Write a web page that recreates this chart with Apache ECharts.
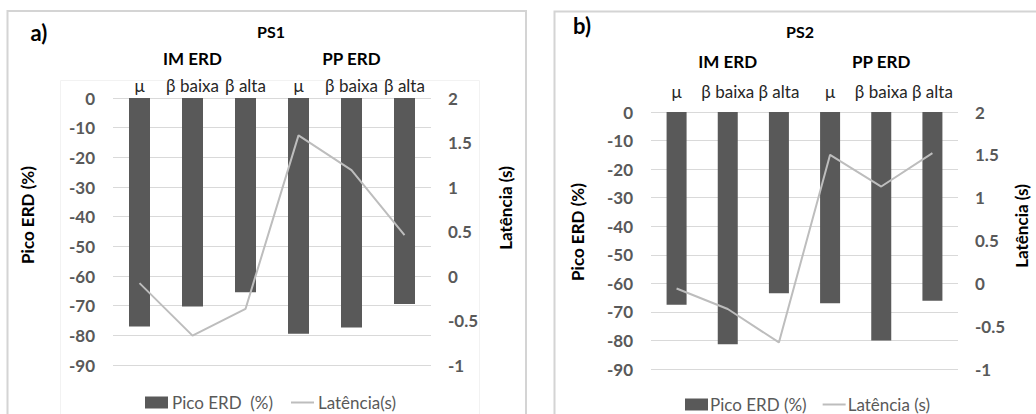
<!DOCTYPE html>
<html>
<head>
<meta charset="utf-8">
<script src="https://cdn.jsdelivr.net/npm/echarts@6/dist/echarts.min.js"></script>
<style>
  html, body { margin: 0; padding: 0; background: #fff; }
  #chart { width: 1036px; height: 414px; }
</style>
</head>
<body>
<div id="chart"></div>
<script>
// ---- data ----
const categories = ['μ', 'β baixa', 'β alta', 'μ', 'β baixa', 'β alta'];
const groups = ['IM ERD', 'PP ERD'];
const ps1Erd = [-77, -70.3, -65.5, -79.5, -77.4, -69.4];
const ps1Lat = [-0.08, -0.67, -0.37, 1.58, 1.19, 0.46];
const ps2Erd = [-67.5, -81.3, -63.5, -67, -80, -66.1];
const ps2Lat = [-0.06, -0.3, -0.69, 1.5, 1.13, 1.52];
const erdMin = -90, erdMax = 0, erdStep = 10;
const latMin = -1, latMax = 2, latStep = 0.5;
const panelTitles = ['PS1', 'PS2'];
const panelLetters = ['a)', 'b)'];
const legend1 = ['Pico ERD  (%)', 'Latência(s)'];
const legend2 = ['Pico ERD (%)', 'Latência (s)'];

// ---- styles ----
const FONT = 'Lato, "Open Sans", sans-serif';
const BAR = '#595959';
const LINE = '#bdbdbd';
const TICK = '#595959';
const LINE_ICON = 'path://M0,0H23V2H0Z';

const chart = echarts.init(document.getElementById('chart'), null, { renderer: 'svg' });

function catAxis(grid, margin) {
  return {
    gridIndex: grid, type: 'category', data: categories, position: 'top',
    axisLine: { show: false }, axisTick: { show: false }, splitLine: { show: false },
    axisLabel: { interval: 0, margin: margin, fontFamily: FONT, fontSize: 17, color: '#262626' }
  };
}
function groupAxis(grid, offset) {
  return {
    gridIndex: grid, type: 'category', data: groups, position: 'top', offset: offset,
    axisLine: { show: false }, axisTick: { show: false }, splitLine: { show: false },
    axisLabel: { interval: 0, margin: 0, fontFamily: FONT, fontSize: 17, fontWeight: 'bold', color: '#000' }
  };
}
function erdAxis(grid) {
  return {
    gridIndex: grid, type: 'value', min: erdMin, max: erdMax, interval: erdStep, position: 'left',
    axisLine: { show: false }, axisTick: { show: false },
    splitLine: { show: true, lineStyle: { color: '#d9d9d9', width: 1 } },
    axisLabel: { margin: 18, fontFamily: FONT, fontSize: 17, fontWeight: 'bold', color: TICK }
  };
}
function latAxis(grid) {
  return {
    gridIndex: grid, type: 'value', min: latMin, max: latMax, interval: latStep, position: 'right',
    axisLine: { show: false }, axisTick: { show: false }, splitLine: { show: false },
    axisLabel: { margin: 17, fontFamily: FONT, fontSize: 17, fontWeight: 'bold', color: TICK }
  };
}
function rotText(x, y, text) {
  return {
    type: 'text', x: x, y: y, rotation: Math.PI / 2, silent: true,
    style: { text: text, fontFamily: FONT, fontSize: 17, fontWeight: 'bold', fill: '#000',
             textAlign: 'center', textVerticalAlign: 'middle' }
  };
}
function plainText(x, y, text, size) {
  return {
    type: 'text', x: x, y: y, silent: true,
    style: { text: text, fontFamily: FONT, fontSize: size, fontWeight: 'bold', fill: '#000',
             textAlign: 'center', textVerticalAlign: 'middle' }
  };
}

const option = {
  animation: false,
  backgroundColor: '#fff',
  grid: [
    { left: 113, top: 98, width: 318, height: 267 },
    { left: 651, top: 112, width: 307, height: 257 }
  ],
  xAxis: [catAxis(0, 4), groupAxis(0, 31), catAxis(1, 12), groupAxis(1, 42)],
  yAxis: [erdAxis(0), latAxis(0), erdAxis(1), latAxis(1)],
  legend: [
    {
      left: 140, top: 389, itemWidth: 23, itemHeight: 12, itemGap: 18, symbolKeepAspect: true,
      textStyle: { fontFamily: FONT, fontSize: 17, color: TICK, padding: [0, 0, 0, -1] },
      data: [{ name: legend1[0], icon: 'rect' }, { name: legend1[1], icon: LINE_ICON }]
    },
    {
      left: 680, top: 391, itemWidth: 23, itemHeight: 12, itemGap: 16, symbolKeepAspect: true,
      textStyle: { fontFamily: FONT, fontSize: 17, color: TICK, padding: [0, 0, 0, -3] },
      data: [{ name: legend2[0], icon: 'rect' }, { name: legend2[1], icon: LINE_ICON }]
    }
  ],
  series: [
    { name: legend1[0], type: 'bar', xAxisIndex: 0, yAxisIndex: 0, data: ps1Erd,
      barWidth: 21, itemStyle: { color: BAR } },
    { name: legend1[1], type: 'line', xAxisIndex: 0, yAxisIndex: 1, data: ps1Lat,
      symbol: 'none', lineStyle: { color: LINE, width: 2 }, itemStyle: { color: LINE } },
    { name: legend2[0], type: 'bar', xAxisIndex: 2, yAxisIndex: 2, data: ps2Erd,
      barWidth: 20, itemStyle: { color: BAR } },
    { name: legend2[1], type: 'line', xAxisIndex: 2, yAxisIndex: 3, data: ps2Lat,
      symbol: 'none', lineStyle: { color: LINE, width: 2 }, itemStyle: { color: LINE } }
  ],
  graphic: [
    // panel frames
    { type: 'rect', silent: true, z: -10, shape: { x: 7.5, y: 11, width: 518.5, height: 420 },
      style: { fill: 'none', stroke: '#d4d4d4', lineWidth: 2 } },
    { type: 'rect', silent: true, z: -10, shape: { x: 60.5, y: 80.5, width: 419, height: 360 },
      style: { fill: 'none', stroke: '#f2f2f2', lineWidth: 1 } },
    { type: 'rect', silent: true, z: -10, shape: { x: 554.5, y: 11.5, width: 500, height: 420 },
      style: { fill: 'none', stroke: '#d4d4d4', lineWidth: 2 } },
    // labels
    plainText(39, 32, panelLetters[0], 22),
    plainText(582, 25, panelLetters[1], 22),
    plainText(271, 31, panelTitles[0], 16),
    plainText(800, 31, panelTitles[1], 16),
    rotText(27, 215, 'Pico ERD (%)'),
    rotText(505, 208, 'Latência (s)'),
    rotText(577, 232, 'Pico ERD (%)'),
    rotText(1021, 226, 'Latência (s)')
  ]
};
chart.setOption(option);
</script>
</body>
</html>
